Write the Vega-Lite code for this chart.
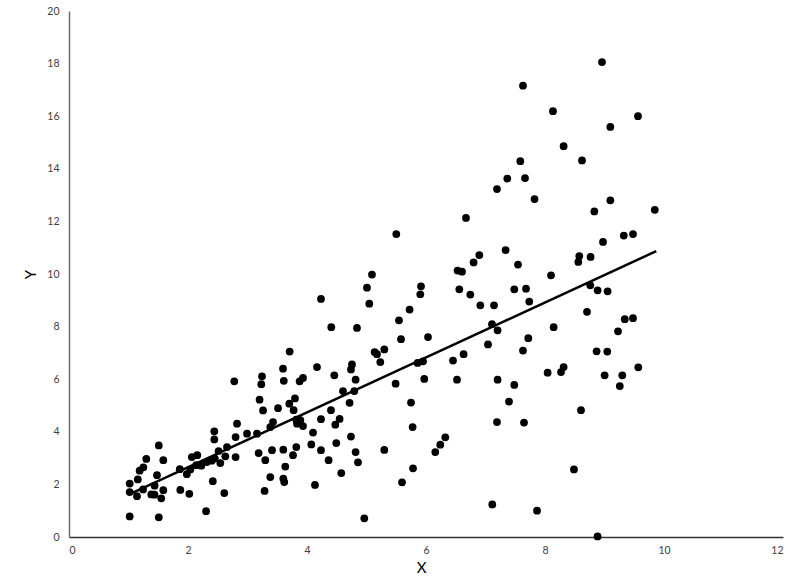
{
  "$schema": "https://vega.github.io/schema/vega-lite/v6.json",
  "autosize": "none",
  "width": 714,
  "height": 526,
  "padding": {"left": 69, "top": 11, "right": 17, "bottom": 44},
  "background": "#ffffff",
  "config": {
    "view": {"stroke": null},
    "font": "Lato",
    "axis": {
      "grid": false,
      "ticks": false,
      "tickSize": 0,
      "labelFont": "Lato",
      "labelFontSize": 10.5,
      "labelColor": "#404040",
      "titleFont": "Lato",
      "titleFontSize": 15,
      "titleFontWeight": "normal",
      "titleColor": "#000000",
      "domainWidth": 1.5
    }
  },
  "datasets": {
    "points": [
      {"x": 1.02, "y": 2.03}, {"x": 1.02, "y": 1.71}, {"x": 1.02, "y": 0.78}, {"x": 1.143, "y": 1.55},
      {"x": 1.156, "y": 2.19}, {"x": 1.187, "y": 2.52}, {"x": 1.249, "y": 2.65}, {"x": 1.299, "y": 2.97},
      {"x": 1.245, "y": 1.81}, {"x": 1.383, "y": 1.62}, {"x": 1.437, "y": 1.61}, {"x": 1.439, "y": 1.95},
      {"x": 1.479, "y": 2.35}, {"x": 1.509, "y": 3.48}, {"x": 1.509, "y": 0.75}, {"x": 1.551, "y": 1.47},
      {"x": 1.585, "y": 2.92}, {"x": 1.585, "y": 1.78}, {"x": 1.862, "y": 2.58}, {"x": 1.871, "y": 1.79},
      {"x": 1.98, "y": 2.39}, {"x": 2.022, "y": 1.64}, {"x": 2.039, "y": 2.57}, {"x": 2.064, "y": 3.04},
      {"x": 2.156, "y": 3.11}, {"x": 2.139, "y": 2.73}, {"x": 2.224, "y": 2.71}, {"x": 2.316, "y": 2.85},
      {"x": 2.4, "y": 2.9}, {"x": 2.45, "y": 2.99}, {"x": 2.514, "y": 3.27}, {"x": 2.543, "y": 2.81},
      {"x": 2.417, "y": 2.12}, {"x": 2.304, "y": 0.98}, {"x": 2.442, "y": 4.02}, {"x": 2.442, "y": 3.71},
      {"x": 2.627, "y": 3.07}, {"x": 2.655, "y": 3.42}, {"x": 2.61, "y": 1.67}, {"x": 2.8, "y": 3.04},
      {"x": 2.778, "y": 5.92}, {"x": 2.824, "y": 4.31}, {"x": 2.8, "y": 3.8}, {"x": 2.992, "y": 3.93},
      {"x": 3.16, "y": 3.93}, {"x": 3.187, "y": 3.19}, {"x": 3.244, "y": 6.11}, {"x": 3.232, "y": 5.81},
      {"x": 3.203, "y": 5.22}, {"x": 3.261, "y": 4.81}, {"x": 3.299, "y": 2.92}, {"x": 3.287, "y": 1.75},
      {"x": 3.383, "y": 4.18}, {"x": 3.429, "y": 4.37}, {"x": 3.412, "y": 3.3}, {"x": 3.383, "y": 2.28},
      {"x": 3.513, "y": 4.9}, {"x": 3.61, "y": 5.94}, {"x": 3.602, "y": 3.32}, {"x": 3.635, "y": 2.68},
      {"x": 3.602, "y": 2.22}, {"x": 3.618, "y": 2.09}, {"x": 3.597, "y": 6.4}, {"x": 3.703, "y": 5.07},
      {"x": 3.775, "y": 4.82}, {"x": 3.708, "y": 7.05}, {"x": 3.798, "y": 5.27}, {"x": 3.82, "y": 4.46},
      {"x": 3.887, "y": 4.44}, {"x": 3.832, "y": 4.31}, {"x": 3.933, "y": 4.22}, {"x": 3.876, "y": 5.92},
      {"x": 3.933, "y": 6.05}, {"x": 4.101, "y": 3.97}, {"x": 3.82, "y": 3.42}, {"x": 3.765, "y": 3.11},
      {"x": 4.072, "y": 3.52}, {"x": 4.235, "y": 3.3}, {"x": 4.168, "y": 6.46}, {"x": 4.235, "y": 9.05},
      {"x": 4.235, "y": 4.48}, {"x": 4.403, "y": 4.82}, {"x": 4.408, "y": 7.98}, {"x": 4.459, "y": 6.15},
      {"x": 4.548, "y": 4.49}, {"x": 4.476, "y": 4.27}, {"x": 4.492, "y": 3.57}, {"x": 4.363, "y": 2.92},
      {"x": 4.576, "y": 2.43}, {"x": 4.134, "y": 1.98}, {"x": 4.605, "y": 5.55}, {"x": 4.795, "y": 5.55},
      {"x": 4.716, "y": 5.1}, {"x": 4.739, "y": 3.82}, {"x": 4.756, "y": 6.56}, {"x": 4.739, "y": 6.37},
      {"x": 4.817, "y": 5.98}, {"x": 4.84, "y": 7.95}, {"x": 4.817, "y": 3.23}, {"x": 4.857, "y": 2.84},
      {"x": 4.963, "y": 0.71}, {"x": 5.008, "y": 9.48}, {"x": 5.047, "y": 8.87}, {"x": 5.092, "y": 9.98},
      {"x": 5.136, "y": 7.03}, {"x": 5.176, "y": 6.95}, {"x": 5.299, "y": 7.13}, {"x": 5.232, "y": 6.65},
      {"x": 5.299, "y": 3.31}, {"x": 5.489, "y": 5.83}, {"x": 5.501, "y": 11.52}, {"x": 5.546, "y": 8.24},
      {"x": 5.58, "y": 7.52}, {"x": 5.724, "y": 8.65}, {"x": 5.597, "y": 2.08}, {"x": 5.748, "y": 5.11},
      {"x": 5.775, "y": 4.18}, {"x": 5.782, "y": 2.61}, {"x": 5.859, "y": 6.62}, {"x": 5.95, "y": 6.68},
      {"x": 5.916, "y": 9.53}, {"x": 5.904, "y": 9.23}, {"x": 5.971, "y": 6.01}, {"x": 6.034, "y": 7.6},
      {"x": 6.156, "y": 3.23}, {"x": 6.24, "y": 3.51}, {"x": 6.324, "y": 3.79}, {"x": 6.454, "y": 6.71},
      {"x": 6.521, "y": 5.98}, {"x": 6.56, "y": 9.42}, {"x": 6.632, "y": 6.95}, {"x": 6.531, "y": 10.13},
      {"x": 6.605, "y": 10.09}, {"x": 6.672, "y": 12.13}, {"x": 6.745, "y": 9.22}, {"x": 6.8, "y": 10.44},
      {"x": 6.896, "y": 10.72}, {"x": 6.913, "y": 8.81}, {"x": 7.143, "y": 8.81}, {"x": 7.109, "y": 8.09},
      {"x": 7.203, "y": 7.86}, {"x": 7.042, "y": 7.32}, {"x": 7.203, "y": 5.98}, {"x": 7.193, "y": 4.37},
      {"x": 7.395, "y": 5.15}, {"x": 7.484, "y": 5.78}, {"x": 7.114, "y": 1.24}, {"x": 7.338, "y": 10.91},
      {"x": 7.546, "y": 10.36}, {"x": 7.484, "y": 9.42}, {"x": 7.681, "y": 9.44}, {"x": 7.736, "y": 8.95},
      {"x": 7.719, "y": 7.56}, {"x": 7.63, "y": 7.09}, {"x": 7.647, "y": 4.35}, {"x": 7.866, "y": 1.0},
      {"x": 7.824, "y": 12.85}, {"x": 8.101, "y": 9.95}, {"x": 8.145, "y": 7.98}, {"x": 8.044, "y": 6.25},
      {"x": 8.269, "y": 6.27}, {"x": 8.313, "y": 6.46}, {"x": 8.487, "y": 2.57}, {"x": 8.605, "y": 4.82},
      {"x": 8.576, "y": 10.68}, {"x": 8.56, "y": 10.46}, {"x": 8.766, "y": 10.65}, {"x": 8.761, "y": 9.57},
      {"x": 8.706, "y": 8.56}, {"x": 8.884, "y": 9.38}, {"x": 9.052, "y": 9.34}, {"x": 8.867, "y": 7.06},
      {"x": 9.047, "y": 7.05}, {"x": 9.002, "y": 6.15}, {"x": 9.299, "y": 6.15}, {"x": 9.257, "y": 5.74},
      {"x": 9.227, "y": 7.82}, {"x": 9.341, "y": 8.28}, {"x": 9.479, "y": 8.32}, {"x": 9.568, "y": 6.45},
      {"x": 8.884, "y": 0.02}, {"x": 8.829, "y": 12.38}, {"x": 8.975, "y": 11.22}, {"x": 9.098, "y": 12.8},
      {"x": 9.324, "y": 11.46}, {"x": 9.479, "y": 11.52}, {"x": 9.845, "y": 12.44}, {"x": 8.958, "y": 18.06},
      {"x": 7.63, "y": 17.16}, {"x": 8.134, "y": 16.19}, {"x": 9.563, "y": 16.0}, {"x": 9.098, "y": 15.59},
      {"x": 8.313, "y": 14.86}, {"x": 8.622, "y": 14.32}, {"x": 7.585, "y": 14.29}, {"x": 7.366, "y": 13.63},
      {"x": 7.664, "y": 13.65}, {"x": 7.193, "y": 13.23}
    ],
    "trend": [
      {"x": 1.02, "y": 1.63},
      {"x": 9.87, "y": 10.87}
    ]
  },
  "layer": [
    {
      "data": {"name": "points"},
      "mark": {"type": "circle", "size": 60, "color": "#000000", "opacity": 1},
      "encoding": {
        "x": {
          "field": "x", "type": "quantitative",
          "scale": {"domain": [0, 12], "nice": false, "zero": false},
          "axis": {
            "title": "X", "values": [0, 2, 4, 6, 8, 10, 12], "format": "d",
            "labelPadding": 8, "domainColor": "#333333",
            "titleX": 352, "titleY": 35, "titleBaseline": "alphabetic", "titleAlign": "center", "titleAnchor": null
          }
        },
        "y": {
          "field": "y", "type": "quantitative",
          "scale": {"domain": [0, 20], "nice": false, "zero": false},
          "axis": {
            "title": "Y", "values": [0, 2, 4, 6, 8, 10, 12, 14, 16, 18, 20], "format": "d",
            "labelPadding": 10, "domainColor": "#6e6e6e",
            "titleAngle": -90, "titleX": -34, "titleY": 263, "titleBaseline": "alphabetic", "titleAlign": "center", "titleAnchor": null
          }
        }
      }
    },
    {
      "data": {"name": "trend"},
      "mark": {"type": "line", "color": "#000000", "strokeWidth": 2.5},
      "encoding": {
        "x": {"field": "x", "type": "quantitative"},
        "y": {"field": "y", "type": "quantitative"}
      }
    }
  ]
}
